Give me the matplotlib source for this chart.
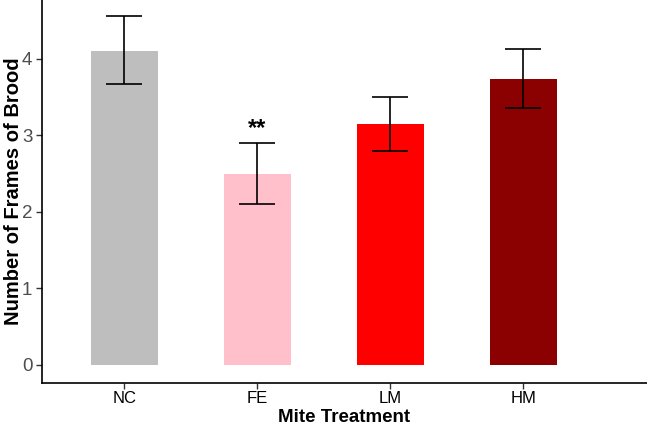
import matplotlib
matplotlib.use("Agg")
import matplotlib.pyplot as plt

categories = ["NC", "FE", "LM", "HM"]
means = [4.10, 2.49, 3.14, 3.74]
err_low = [3.67, 2.10, 2.80, 3.36]
err_high = [4.55, 2.90, 3.50, 4.12]
colors = ["#BEBEBE", "#FFC0CB", "#FF0000", "#8B0000"]
annotations = ["", "**", "", ""]

plt.rcParams['font.family'] = ['Liberation Sans', 'DejaVu Sans']

fig = plt.figure(figsize=(6.47, 4.26), dpi=100)
ax = fig.add_axes([42/647, 43/426, 1 - 42/647, 1 - 43/426])

x = list(range(1, len(categories) + 1))
ax.bar(x, means, width=0.5, color=colors, zorder=1)
yerr = [[m - l for m, l in zip(means, err_low)], [h - m for m, h in zip(means, err_high)]]
ax.errorbar(x, means, yerr=yerr, fmt='none', ecolor='black', elinewidth=1.2,
            capsize=13, capthick=1.2, zorder=2)
for xi, h, a in zip(x, err_high, annotations):
    if a:
        ax.text(xi, h + 0.04, a, ha='center', va='bottom', fontsize=17, fontweight='bold')

ax.set_xlim(0.38, 4.93)
ax.set_ylim(-0.235, 4.765)
ax.set_xticks(x)
ax.set_xticklabels(categories, fontsize=12, color='black')
ax.set_yticks([0, 1, 2, 3, 4])
ax.set_yticklabels(['0', '1', '2', '3', '4'], fontsize=13.5, color='#4D4D4D')
ax.tick_params(axis='both', length=4, width=1, color='#333333')
ax.tick_params(axis='x', pad=2)
ax.tick_params(axis='y', pad=3)
for s in ['top', 'right']:
    ax.spines[s].set_visible(False)
for s in ['left', 'bottom']:
    ax.spines[s].set_linewidth(1.2)
ax.set_xlabel("Mite Treatment", fontsize=13.5, fontweight='bold', labelpad=2)
ax.set_ylabel("Number of Frames of Brood", fontsize=14.5, fontweight='bold')
ax.yaxis.set_label_coords((23 - 42) / 605, 0.5)

fig.savefig("out.png", dpi=100)
